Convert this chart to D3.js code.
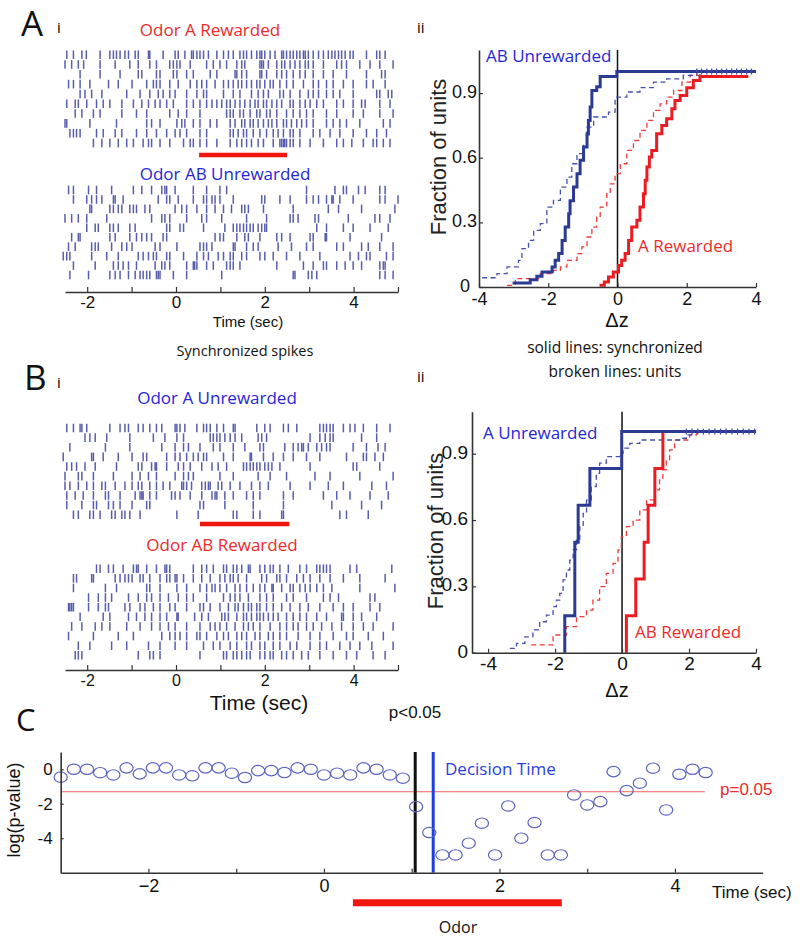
<!DOCTYPE html>
<html><head><meta charset="utf-8">
<script src="https://cdn.jsdelivr.net/npm/d3@7"></script>
<style>body{margin:0;background:#fff}svg{display:block}</style>
</head><body>
<svg id="c" width="800" height="941"></svg>
<script>
// ---------------- DATA ----------------
// Raster spike times (sec), one array per trial row
const rasterOdorARewarded = [
[-2.46,-2.31,-2.12,-2.02,-1.71,-1.49,-1.41,-1.34,-1.26,-1.15,-1.07,-0.92,-0.85,-0.62,-0.59,-0.29,-0.02,0.05,0.2,0.35,0.39,0.47,0.54,0.62,0.73,0.92,1.07,1.18,1.29,1.44,1.52,1.59,1.7,1.82,1.89,1.93,2.0,2.12,2.23,2.38,2.42,2.49,2.57,2.64,2.72,2.79,2.87,2.91,2.98,3.09,3.21,3.32,3.43,3.51,3.58,3.66,3.73,3.81,3.92,3.99,4.29,4.52,4.59,4.71],
[-2.5,-2.35,-2.2,-2.08,-1.71,-1.37,-1.04,-0.85,-0.59,-0.44,-0.14,-0.06,0.02,0.09,0.32,0.69,0.84,0.99,1.14,1.37,1.48,1.55,1.89,1.93,1.97,2.08,2.27,2.38,2.45,2.57,2.68,2.79,2.91,2.98,3.09,3.32,3.62,3.73,3.84,4.14,4.37,4.59,4.89],
[-2.16,-1.71,-1.26,-0.85,-0.77,-0.44,-0.36,-0.06,0.02,0.24,0.39,0.77,0.92,1.33,1.37,1.48,1.59,1.89,1.93,2.04,2.27,2.38,2.49,2.64,2.79,2.91,3.09,3.32,3.54,3.84,4.29,4.63,4.71],
[-2.42,-2.31,-2.16,-1.94,-1.52,-1.3,-0.99,-0.66,-0.51,-0.44,-0.36,-0.14,0.05,0.32,0.47,0.58,0.69,0.88,1.07,1.18,1.29,1.4,1.48,1.59,1.7,1.82,1.89,2.0,2.12,2.19,2.34,2.49,2.64,2.87,3.09,3.21,3.39,3.54,3.77,3.99,4.29,4.44,4.71],
[-2.16,-2.05,-1.9,-1.67,-1.11,-0.81,-0.59,-0.4,-0.29,-0.14,-0.02,0.24,0.47,0.62,0.69,1.07,1.29,1.44,1.7,1.85,1.97,2.08,2.34,2.42,2.57,2.79,2.98,3.09,3.21,3.39,3.54,3.69,3.99,4.52,4.59,4.78,4.86],
[-2.46,-2.27,-2.2,-2.01,-1.79,-1.64,-1.49,-1.22,-0.96,-0.77,-0.62,-0.47,-0.36,-0.21,-0.06,0.24,0.39,0.54,0.69,0.81,0.92,1.03,1.14,1.22,1.33,1.44,1.55,1.67,1.78,1.85,1.97,2.04,2.16,2.27,2.38,2.57,2.64,2.79,2.91,3.02,3.17,3.32,3.62,3.77,3.99,4.18,4.26,4.59,4.82],
[-2.27,-2.12,-1.86,-1.71,-1.22,-0.89,-0.66,-0.14,0.05,0.24,0.54,1.14,1.22,1.29,1.44,1.52,1.67,1.82,1.89,2.04,2.12,2.27,2.49,2.64,2.79,2.94,3.09,3.39,3.62,3.99,4.22,4.59,4.89],
[-2.5,-2.46,-1.94,-1.34,-0.66,-0.55,-0.36,0.02,0.13,0.2,0.39,0.54,0.77,0.92,1.22,1.33,1.48,1.55,1.67,1.74,1.85,1.97,2.08,2.16,2.27,2.42,2.49,2.6,2.72,2.83,2.94,3.09,3.39,3.54,3.69,3.84,4.14,4.67,4.82],
[-2.39,-2.31,-2.24,-2.16,-1.79,-1.64,-1.37,-1.22,-0.89,-0.66,-0.44,-0.21,-0.02,0.09,0.24,0.54,0.69,1.22,1.29,1.4,1.52,1.59,1.74,1.89,2.04,2.19,2.3,2.42,2.57,2.64,2.79,3.09,3.24,3.47,3.69,3.99,4.29,4.52,4.74],
[-1.86,-1.67,-1.49,-1.3,-1.11,-0.96,-0.74,-0.62,-0.55,-0.36,-0.14,0.17,0.32,0.39,0.54,0.69,0.92,1.22,1.37,1.48,1.59,1.7,1.85,1.97,2.19,2.34,2.38,2.42,2.45,2.49,2.57,2.64,2.79,3.02,3.32,3.62,3.77,3.96,4.22,4.44,4.52,4.67,4.82]
];
const rasterOdorABUnrewarded = [
[-2.42,-2.31,-1.97,-1.79,-1.45,-0.96,-0.77,-0.55,-0.32,-0.25,-0.21,-0.02,0.39,0.69,0.99,1.14,2.94,3.58,3.77,3.84,4.11,4.26,4.59,4.71],
[-2.31,-2.01,-1.9,-1.79,-1.67,-1.41,-1.37,-1.19,-0.4,-0.21,-0.14,0.05,0.39,0.62,0.69,0.81,0.88,0.99,1.29,1.93,2.0,2.34,2.57,2.94,3.09,3.21,3.39,3.51,3.54,3.69,3.99,4.59,4.71,5.0],
[-1.94,-1.9,-1.49,-1.41,-1.3,-1.22,-1.04,-0.96,-0.89,-0.7,-0.59,-0.02,0.13,0.24,0.47,0.69,0.88,1.07,1.25,1.48,1.55,1.63,1.97,2.64,3.43,3.66,4.18,4.93],
[-2.5,-2.35,-2.2,-2.01,-1.56,-0.55,-0.32,-0.25,-0.14,0.24,0.58,0.69,1.03,1.59,2.04,2.57,2.64,2.75,3.13,3.21,3.88,4.48,4.59,4.82],
[-2.01,-1.82,-1.75,-1.49,-1.41,-1.3,-1.04,-0.92,-0.21,-0.14,0.09,0.17,0.62,1.1,1.29,1.37,1.44,1.52,1.59,1.67,1.74,1.85,1.93,2.0,2.04,3.17,3.39,3.77,3.99,4.37,4.78],
[-2.35,-2.2,-2.16,-1.49,-1.37,-1.04,-0.89,-0.77,-0.66,-0.55,-0.29,-0.21,0.88,0.99,1.07,1.37,1.55,1.63,1.89,2.27,2.38,2.57,3.02,3.09,3.36,3.39,3.92,4.63],
[-2.42,-2.27,-1.9,-1.82,-1.75,-1.45,-1.22,-1.11,-0.99,-0.47,-0.36,0.02,0.54,0.62,0.69,0.81,1.29,1.33,1.59,1.74,1.85,2.3,2.6,2.94,3.09,3.62,3.77,4.18,4.33,4.59,4.89],
[-2.54,-2.46,-2.39,-1.9,-1.56,-1.3,-0.85,-0.74,-0.62,-0.51,-0.44,-0.21,-0.14,0.17,0.47,0.62,0.73,0.95,1.07,1.22,1.29,1.48,1.59,1.89,2.0,2.19,2.49,2.79,3.24,3.92,4.11,4.29,4.37,4.74,4.89],
[-2.31,-1.82,-1.41,-1.3,-1.19,-1.07,-0.89,-0.47,-0.32,-0.25,-0.14,0.24,0.39,0.42,0.47,0.69,0.84,1.14,1.22,1.29,1.44,2.27,2.87,3.09,3.32,3.39,3.62,3.81,3.99,4.18,4.59,4.67,4.71],
[-2.39,-1.97,-1.49,-1.37,-1.26,-1.07,-0.92,-0.81,-0.74,-0.66,-0.59,-0.44,-0.4,-0.36,-0.06,0.24,1.03,2.64,2.68,2.98,3.06,3.17,4.59,4.71,4.89]
];
const rasterOdorAUnrewarded = [
[-2.46,-2.31,-2.16,-2.12,-2.01,-1.49,-1.26,-1.15,-1.07,-0.85,-0.74,-0.59,-0.44,-0.32,-0.02,0.02,0.09,0.2,0.47,0.62,0.69,0.77,0.92,1.07,1.29,1.33,1.82,2.0,2.12,2.42,2.53,2.72,3.24,3.32,3.39,3.47,3.54,3.77,3.92,4.03,4.22,4.52,4.82],
[-2.05,-1.94,-1.82,-1.56,-1.04,-0.51,-0.25,0.02,0.17,0.77,0.84,0.92,0.99,1.1,1.22,1.33,1.48,1.85,1.93,2.04,3.02,3.24,3.36,3.47,3.54,4.18,4.52],
[-2.39,-1.59,-1.04,-0.32,-0.02,0.17,0.28,0.54,0.84,0.99,1.29,1.55,1.89,1.97,2.45,2.64,2.75,2.83,2.87,2.98,3.17,3.28,3.39,3.47,3.99,4.29,4.55,4.71],
[-2.54,-1.9,-1.86,-1.64,-1.3,-0.99,-0.74,-0.66,-0.21,-0.02,0.09,0.24,0.39,0.5,0.62,0.69,1.07,1.29,1.67,1.7,1.97,2.19,2.42,2.64,2.94,3.24,3.84,4.22,4.29,4.48,4.67],
[-2.46,-2.35,-2.24,-2.05,-1.82,-1.34,-0.85,-0.77,-0.55,-0.47,-0.44,-0.21,0.05,0.17,0.32,0.58,0.81,0.95,1.14,1.52,1.59,1.67,1.74,1.82,1.89,2.0,2.08,2.16,2.34,3.02,3.99,4.07,4.59],
[-2.5,-2.2,-2.12,-1.86,-1.41,-0.99,-0.81,-0.62,-0.44,-0.02,0.17,0.28,0.39,0.99,1.29,1.85,2.12,2.49,3.13,3.47,4.14,4.89],
[-2.5,-2.39,-2.2,-2.01,-1.86,-1.67,-1.59,-1.37,-1.15,-0.99,-0.85,-0.77,-0.59,-0.44,-0.29,-0.14,0.13,0.17,0.24,0.35,0.58,0.66,0.73,0.77,0.95,1.03,1.22,1.44,1.7,1.89,2.08,2.57,3.02,3.43,3.77,4.41,4.74],
[-2.46,-2.27,-2.09,-1.86,-1.59,-1.52,-1.26,-0.92,-0.81,-0.77,-0.74,-0.59,-0.44,-0.1,-0.02,0.09,0.32,0.58,0.81,0.88,0.92,1.1,1.29,1.59,1.74,1.89,2.42,2.64,3.32,3.62,3.92,4.37,4.78],
[-2.46,-2.12,-1.86,-1.79,-1.52,-1.41,-1.26,-0.99,-0.66,-0.59,0.54,0.62,1.1,1.74,2.42,3.51,4.18,4.63],
[-2.31,-2.2,-1.94,-1.86,-1.71,-1.45,-1.37,-1.22,-1.15,-1.04,-0.81,0.02,0.5,1.29,1.37,1.74,1.89,2.38,2.42,3.69,3.84,4.33]
];
const rasterOdorABRewarded = [
[-1.79,-1.71,-1.52,-1.41,-1.19,-0.96,-0.89,-0.85,-0.66,-0.44,-0.25,-0.21,-0.14,0.39,0.58,0.69,0.84,1.07,1.14,1.29,1.37,1.48,1.63,1.67,1.89,2.0,2.12,2.19,2.34,2.53,2.79,2.94,3.17,3.24,3.32,3.39,3.47,3.92,4.07,4.86],
[-2.31,-2.24,-1.9,-1.86,-1.37,-1.26,-1.15,-1.07,-0.99,-0.81,-0.74,-0.59,-0.36,-0.21,-0.14,-0.02,0.02,0.17,0.39,0.58,0.77,0.99,1.1,1.22,1.29,1.4,1.59,1.93,2.04,2.27,2.34,2.49,2.72,2.87,3.02,3.24,3.47,3.77,4.14,4.71],
[-2.31,-1.59,-1.34,-0.66,-0.59,-0.36,0.02,0.24,0.54,0.69,0.81,0.88,0.99,1.14,1.33,1.44,1.59,1.74,1.89,2.0,2.16,2.19,2.38,2.57,2.64,2.79,2.91,3.02,3.17,3.32,3.51,4.14,4.93],
[-1.97,-1.75,-1.59,-1.45,-1.07,-0.85,-0.66,-0.55,-0.36,-0.17,0.05,0.24,0.39,0.69,1.07,1.22,1.33,1.44,1.63,1.89,2.04,2.19,2.49,2.64,2.94,3.32,3.47,3.66,4.37,4.48],
[-2.42,-2.39,-2.35,-2.31,-1.97,-1.75,-1.59,-1.52,-1.15,-1.04,-0.81,-0.7,-0.51,-0.36,-0.14,-0.02,0.24,0.54,0.62,0.77,0.99,1.18,1.33,1.4,1.52,1.63,1.7,1.82,1.89,2.04,2.19,2.38,2.57,2.79,2.98,3.24,3.54,3.77,3.99,4.37,4.59],
[-2.16,-1.64,-1.49,-1.07,-0.89,-0.7,-0.55,-0.36,-0.21,0.02,0.05,0.42,0.58,0.73,1.03,1.1,1.18,1.37,1.52,1.59,1.7,1.82,1.89,1.97,2.08,2.19,2.3,2.49,2.64,2.79,2.94,3.17,3.39,3.73,3.77,3.99,4.18,4.52],
[-2.35,-2.12,-1.82,-1.67,-1.49,-1.11,-0.81,-0.55,-0.36,-0.17,-0.02,0.24,0.54,0.77,0.88,0.99,1.14,1.33,1.52,1.63,1.74,1.89,2.12,2.34,2.49,2.64,2.75,2.94,3.09,3.28,3.51,3.73,3.99,4.22,4.44,4.89],
[-2.42,-1.86,-1.3,-0.96,-0.32,-0.14,-0.02,0.09,0.24,0.47,0.54,0.69,0.92,1.07,1.18,1.37,1.48,1.59,1.78,1.89,2.08,2.19,2.34,2.49,2.75,3.02,3.24,3.54,3.84,3.99,4.33,4.67],
[-2.2,-1.94,-1.45,-1.11,-0.62,-0.36,-0.02,0.24,0.62,0.84,0.99,1.22,1.37,1.59,1.7,1.89,2.0,2.19,2.34,2.57,2.72,3.02,3.24,3.39,3.69,3.92,4.14,4.41,4.89],
[-2.27,-2.2,-2.12,-0.85,-0.59,-0.51,-0.36,0.54,1.07,1.14,1.29,1.37,1.48,1.59,1.67,1.89,2.0,2.12,2.19,2.38,2.49,2.64,2.83,2.98,3.24,3.54,3.84,4.07,4.44,4.71]
];
const odorWindowA = [0.52, 2.5];
const odorWindowB = [0.54, 2.55];
const rasterTicks = [-2, -1, 0, 1, 2, 3, 4, 5];

// CDFs panel A ii (delta z, cumulative fraction)
const aSyncUnrewX = [-3.03,-2.52,-2.33,-2.18,-1.89,-1.8,-1.7,-1.6,-1.51,-1.41,-1.37,-1.27,-1.17,-1.08,-0.98,-0.88,-0.84,-0.79,-0.74,-0.6,-0.5,-0.02,4];
const aSyncUnrewY = [0.019,0.034,0.05,0.07,0.093,0.124,0.155,0.216,0.278,0.34,0.40,0.464,0.526,0.588,0.65,0.71,0.773,0.835,0.912,0.93,0.977,1.0,1.0];
const aSyncRewX = [-0.52,-0.38,-0.26,-0.12,0.03,0.12,0.22,0.32,0.41,0.56,0.65,0.75,0.8,0.85,0.92,0.99,1.13,1.28,1.42,1.57,1.66,1.81,2.0,2.19,2.38,3.78];
const aSyncRewY = [0.008,0.023,0.046,0.07,0.10,0.124,0.155,0.216,0.278,0.31,0.371,0.433,0.495,0.557,0.603,0.634,0.711,0.75,0.781,0.827,0.866,0.889,0.925,0.959,0.977,0.977];
const aUnitUnrewX = [-3.91,-3.48,-3.19,-2.86,-2.76,-2.57,-2.42,-2.23,-2.04,-1.85,-1.65,-1.46,-1.32,-1.17,-0.98,-0.88,-0.69,-0.26,-0.07,0.27,0.65,1.04,1.42,1.9,2.38,4];
const aUnitUnrewY = [0.043,0.062,0.093,0.124,0.178,0.216,0.263,0.294,0.371,0.402,0.464,0.51,0.572,0.619,0.665,0.742,0.789,0.812,0.881,0.905,0.925,0.951,0.966,0.982,1.0,1.0];
const aUnitRewX = [-3.19,-2.95,-2.23,-1.85,-1.65,-1.46,-1.17,-1.03,-0.88,-0.74,-0.6,-0.5,-0.31,-0.21,-0.07,0.08,0.27,0.46,0.65,0.85,1.04,1.23,1.42,1.62,1.86,2.1,2.29,4];
const aUnitRewY = [0.008,0.039,0.062,0.077,0.093,0.124,0.155,0.186,0.232,0.278,0.325,0.371,0.433,0.479,0.526,0.572,0.634,0.68,0.727,0.773,0.82,0.85,0.881,0.912,0.951,0.982,1.0,1.0];
const aCensorX = [2.29,2.43,2.58,2.72,2.86,3.01,3.15,3.3,3.44,3.58,3.73,3.87];

// CDFs panel B ii
const bSyncUnrewX = [-1.71,-1.71,-1.41,-1.31,-0.96,-0.01,4];
const bSyncUnrewY = [0,0.167,0.5,0.667,0.833,1.0,1.0];
const bSyncRewX = [0.13,0.13,0.41,0.66,0.78,0.98,1.22,1.3];
const bSyncRewY = [0,0.167,0.333,0.5,0.667,0.833,1.0,1.0];
const bUnitUnrewX = [-3.35,-3.15,-2.9,-2.66,-2.46,-2.26,-2.06,-1.96,-1.86,-1.76,-1.66,-1.56,-1.46,-1.36,-1.26,-1.16,-1.06,-0.92,-0.77,-0.67,-0.47,-0.07,0.03,0.23,0.53,1.72,1.92,2.12,4];
const bUnitUnrewY = [0.02,0.042,0.072,0.103,0.14,0.17,0.208,0.238,0.268,0.329,0.374,0.419,0.465,0.51,0.57,0.63,0.69,0.751,0.811,0.857,0.887,0.902,0.925,0.947,0.962,0.97,0.985,1.0,1.0];
const bUnitRewX = [-2.71,-2.06,-1.66,-1.36,-1.06,-0.87,-0.67,-0.47,-0.27,-0.12,-0.02,0.13,0.33,0.53,0.73,0.98,1.12,1.22,1.32,1.42,1.57,2.02,2.22,4];
const bUnitRewY = [0.035,0.08,0.118,0.163,0.193,0.238,0.299,0.359,0.404,0.465,0.525,0.57,0.6,0.646,0.691,0.736,0.781,0.827,0.872,0.917,0.962,0.985,1.0,1.0];
const bCensorX = [1.92,2.09,2.26,2.43,2.6,2.77,2.94,3.11,3.28,3.45,3.62,3.79,3.96];
const cdfXTicks = [-4, -2, 0, 2, 4];
const cdfYTicks = [0, 0.3, 0.6, 0.9];

// Panel C: log(p-value) over time
const pTimes = [-3.0,-2.85,-2.7,-2.55,-2.4,-2.25,-2.1,-1.95,-1.8,-1.65,-1.5,-1.35,-1.2,-1.05,-0.9,-0.75,-0.6,-0.45,-0.3,-0.15,0.0,0.15,0.3,0.45,0.6,0.75,0.9,1.05,1.2,1.35,1.5,1.65,1.8,1.95,2.1,2.25,2.4,2.55,2.7,2.85,3.0,3.15,3.3,3.45,3.6,3.75,3.9,4.05,4.2,4.35];
const logP = [-0.46,0,0,-0.2,-0.33,0.08,-0.27,0.08,0.08,-0.33,-0.38,0.08,0.08,-0.23,-0.48,-0.08,-0.08,-0.19,0.08,0,-0.33,-0.23,-0.33,0.08,0,-0.33,-0.52,-2.17,-3.67,-4.97,-4.97,-4.29,-3.13,-4.97,-2.13,-4.0,-3.09,-4.97,-4.97,-1.49,-2.07,-1.88,-0.14,-1.24,-0.81,0.06,-2.36,-0.29,0,-0.19];
const pThreshold = 0.05;
const thresholdSpan = [-3, 4.34];
const sigTime = 1.04;
const decisionTime = 1.245;
const odorWindowC = [0.33, 2.71];
const cXTicks = [-2, -1, 0, 1, 2, 3, 4];
const cYTicks = [0, -2, -4];

// ---------------- DRAWING ----------------
const SANS = '"Liberation Sans", Arial, sans-serif';
const HUM = '"Open Sans", "Noto Sans", sans-serif';
const RED = '#ee2a2a', BLUE = '#2626d8';
const NAVY = '#2b3a92', SRED = '#ea1c22';
const svg = d3.select('#c');

function txt(x, y, s, o = {}) {
  const t = svg.append('text').attr('x', x).attr('y', y).text(s)
    .attr('font-family', o.family || HUM).attr('font-size', o.size || 16)
    .attr('fill', o.fill || '#111').attr('text-anchor', o.anchor || 'start');
  if (o.rotate) t.attr('transform', `rotate(${o.rotate},${x},${y})`);
  return t;
}
function styleAxis(g, fs) {
  g.attr('font-family', SANS);
  g.select('.domain').attr('stroke', '#333').attr('stroke-width', 1.6);
  g.selectAll('.tick line').attr('stroke', '#333').attr('stroke-width', 1.2);
  g.selectAll('.tick text').attr('font-size', fs).attr('fill', '#111').attr('font-family', SANS);
}

// ---- Raster panels ----
const tRaster = d3.scaleLinear().domain([-2.5, 5]).range([65, 398]);
function raster(rows, top, bottom) {
  const y = d3.scalePoint().domain(d3.range(rows.length)).range([top, bottom]);
  const g = svg.append('g');
  rows.forEach((r, i) => {
    g.selectAll(null).data(r).join('line')
      .attr('x1', d => tRaster(d)).attr('x2', d => tRaster(d))
      .attr('y1', y(i) - 4.3).attr('y2', y(i) + 4.3)
      .attr('stroke', '#2f3598').attr('stroke-width', 1.5).attr('stroke-opacity', 0.8);
  });
}
function odorBar(scale, win, y, w) {
  svg.append('line').attr('x1', scale(win[0])).attr('x2', scale(win[1]))
    .attr('y1', y).attr('y2', y).attr('stroke', '#f0170f').attr('stroke-width', w);
}
function rasterAxis(y, fs, pad) {
  const ax = d3.axisBottom(tRaster).tickValues(rasterTicks).tickSizeInner(-5).tickSizeOuter(0)
    .tickPadding(pad).tickFormat(d => (d % 2 === 0 && d < 5) ? String(d) : '');
  const g = svg.append('g').attr('transform', `translate(0,${y})`).call(ax);
  styleAxis(g, fs);
}

// Panel A i
txt(21, 36, 'A', {size: 35});
txt(57, 33, 'i', {size: 15, fill: '#000'});
txt(210, 36, 'Odor A Rewarded', {size: 17, fill: RED, anchor: 'middle'});
raster(rasterOdorARewarded, 54.7, 143);
odorBar(tRaster, odorWindowA, 155, 4.6);
txt(225, 180, 'Odor AB Unrewarded', {size: 17, fill: BLUE, anchor: 'middle'});
raster(rasterOdorABUnrewarded, 190, 275);
rasterAxis(292, 17, 4);
txt(248, 327, 'Time (sec)', {size: 15, family: SANS, anchor: 'middle'});
txt(245, 356, 'Synchronized spikes', {size: 14.5, anchor: 'middle'});

// Panel B i
txt(24, 390, 'B', {size: 35});
txt(57, 388, 'i', {size: 15, fill: '#000'});
txt(217, 404, 'Odor A Unrewarded', {size: 17, fill: BLUE, anchor: 'middle'});
raster(rasterOdorAUnrewarded, 428, 514.7);
odorBar(tRaster, odorWindowB, 524, 4.6);
txt(222, 551, 'Odor AB Rewarded', {size: 17, fill: RED, anchor: 'middle'});
raster(rasterOdorABRewarded, 568.7, 655.3);
rasterAxis(670, 16, 5);
txt(259, 710, 'Time (sec)', {size: 21, family: SANS, anchor: 'middle'});

// ---- CDF panels ----
function cdfPanel(o) {
  const x = d3.scaleLinear().domain(o.xDomain).range(o.xRange);
  const y = d3.scaleLinear().domain(o.yDomain).range(o.yRange);
  svg.append('line').attr('x1', x(0)).attr('x2', x(0)).attr('y1', o.yRange[0]).attr('y2', o.yRange[1])
    .attr('stroke', '#111').attr('stroke-width', 1.5);
  const line = (xs, ys) => d3.line().x(i => x(xs[i])).y(i => y(ys[i])).curve(d3.curveStepAfter)(d3.range(xs.length));
  svg.append('path').attr('d', line(o.unitRewX, o.unitRewY)).attr('fill', 'none')
    .attr('stroke', '#f03a3a').attr('stroke-width', 1.3).attr('stroke-dasharray', '5,3.5');
  svg.append('path').attr('d', line(o.unitUnrewX, o.unitUnrewY)).attr('fill', 'none')
    .attr('stroke', '#4650ad').attr('stroke-width', 1.3).attr('stroke-dasharray', '5,3.5');
  svg.append('path').attr('d', line(o.syncRewX, o.syncRewY)).attr('fill', 'none')
    .attr('stroke', SRED).attr('stroke-width', 3);
  svg.append('path').attr('d', line(o.syncUnrewX, o.syncUnrewY)).attr('fill', 'none')
    .attr('stroke', NAVY).attr('stroke-width', 3);
  svg.append('g').selectAll('line').data(o.censor).join('line')
    .attr('x1', d => x(d)).attr('x2', d => x(d)).attr('y1', y(1) - 3).attr('y2', y(1) + 3)
    .attr('stroke', '#3d47a8').attr('stroke-width', 1.2);
  const gx = svg.append('g').attr('transform', `translate(0,${o.yRange[0]})`)
    .call(d3.axisBottom(x).tickValues(cdfXTicks).tickSizeInner(-4).tickSizeOuter(0).tickPadding(o.xPad).tickFormat(d => String(d)));
  styleAxis(gx, o.fs);
  const gy = svg.append('g').attr('transform', `translate(${o.xRange[0]},0)`)
    .call(d3.axisLeft(y).tickValues(cdfYTicks).tickSizeInner(-4).tickSizeOuter(0).tickPadding(o.yPad)
      .tickFormat(d => d === 0 ? '0' : d.toFixed(1)));
  styleAxis(gy, o.fs);
  gy.selectAll('.tick text').attr('dy', '0.24em');
  if (o.zeroShift) gy.selectAll('.tick').filter(d => d === 0).select('text').attr('x', -o.zeroShift);
}

// Panel A ii
txt(417, 33, 'ii', {size: 15, fill: '#000'});
cdfPanel({xDomain: [-4, 4], xRange: [479, 756], yDomain: [0, 1.1], yRange: [287, 50],
  syncUnrewX: aSyncUnrewX, syncUnrewY: aSyncUnrewY, syncRewX: aSyncRewX, syncRewY: aSyncRewY,
  unitUnrewX: aUnitUnrewX, unitUnrewY: aUnitUnrewY, unitRewX: aUnitRewX, unitRewY: aUnitRewY,
  censor: aCensorX, fs: 18, xPad: 5, yPad: 2, zeroShift: 9});
txt(486, 62, 'AB Unrewarded', {size: 17, fill: BLUE});
txt(638, 252, 'A Rewarded', {size: 17, fill: RED});
txt(438, 157, 'Fraction of units', {size: 22, family: SANS, anchor: 'middle', rotate: -90, fill: '#222'}).attr('dy', '0.35em');
txt(617, 327, 'Δz', {size: 20, family: SANS, anchor: 'middle'});

txt(615, 353, 'solid lines: synchronized', {size: 15.5, anchor: 'middle'});
txt(615, 377, 'broken lines: units', {size: 15.5, anchor: 'middle'});

// Panel B ii
txt(417, 382, 'ii', {size: 15, fill: '#000'});
cdfPanel({xDomain: [-4.48, 4], xRange: [472, 756], yDomain: [0, 1.09], yRange: [652.7, 411.7],
  syncUnrewX: bSyncUnrewX, syncUnrewY: bSyncUnrewY, syncRewX: bSyncRewX, syncRewY: bSyncRewY,
  unitUnrewX: bUnitUnrewX, unitUnrewY: bUnitUnrewY, unitRewX: bUnitRewX, unitRewY: bUnitRewY,
  censor: bCensorX, fs: 19, xPad: 4, yPad: 4});
txt(483, 439, 'A Unrewarded', {size: 17, fill: BLUE});
txt(635, 638, 'AB Rewarded', {size: 17, fill: RED});
txt(435, 531, 'Fraction of units', {size: 22, family: SANS, anchor: 'middle', rotate: -90, fill: '#222'}).attr('dy', '0.35em');
txt(617, 697, 'Δz', {size: 20, family: SANS, anchor: 'middle'});

// ---- Panel C ----
const xC = d3.scaleLinear().domain([-3, 5]).range([60.7, 762.7]);
const yC = d3.scaleLinear().domain([-6, 1]).range([872.7, 752]);
txt(16, 731, 'C', {size: 31});
const thrY = yC(Math.log10(pThreshold));
svg.append('line').attr('x1', xC(thresholdSpan[0])).attr('x2', xC(thresholdSpan[1]))
  .attr('y1', thrY).attr('y2', thrY).attr('stroke', '#f06060').attr('stroke-width', 1.1);
svg.append('line').attr('x1', xC(sigTime)).attr('x2', xC(sigTime)).attr('y1', yC(1)).attr('y2', yC(-6))
  .attr('stroke', '#111').attr('stroke-width', 3);
svg.append('line').attr('x1', xC(decisionTime)).attr('x2', xC(decisionTime)).attr('y1', yC(1)).attr('y2', yC(-6))
  .attr('stroke', '#1c3ee0').attr('stroke-width', 3);
svg.append('g').selectAll('ellipse').data(d3.range(pTimes.length)).join('ellipse')
  .attr('cx', i => xC(pTimes[i])).attr('cy', i => yC(logP[i])).attr('rx', 6.6).attr('ry', 5.2)
  .attr('fill', 'none').attr('stroke', '#5c63c0').attr('stroke-width', 1.2);
const gcx = svg.append('g').attr('transform', `translate(0,${yC(-6)})`)
  .call(d3.axisBottom(xC).tickValues(cXTicks).tickSizeInner(-4).tickSizeOuter(0).tickPadding(7)
    .tickFormat(d => d % 2 === 0 ? d3.format('d')(d) : ''));
styleAxis(gcx, 18);
const gcy = svg.append('g').attr('transform', `translate(${xC(-3)},0)`)
  .call(d3.axisLeft(yC).tickValues(cYTicks).tickSizeInner(-3).tickSizeOuter(0).tickPadding(8)
    .tickFormat(d => String(d)));
styleAxis(gcy, 17);
txt(14, 810, 'log(p-value)', {size: 18, family: SANS, anchor: 'middle', rotate: -90}).attr('dy', '0.35em');
txt(415, 718, 'p<0.05', {size: 17, family: SANS, anchor: 'middle'});
txt(445, 775, 'Decision Time', {size: 17, fill: '#2a3ee0'});
txt(720, 795, 'p=0.05', {size: 17, fill: RED, family: SANS});
odorBar(xC, odorWindowC, 902.7, 7);
txt(458, 933, 'Odor', {size: 16, anchor: 'middle'});
txt(712, 898, 'Time (sec)', {size: 17, family: SANS});
</script>
</body></html>
